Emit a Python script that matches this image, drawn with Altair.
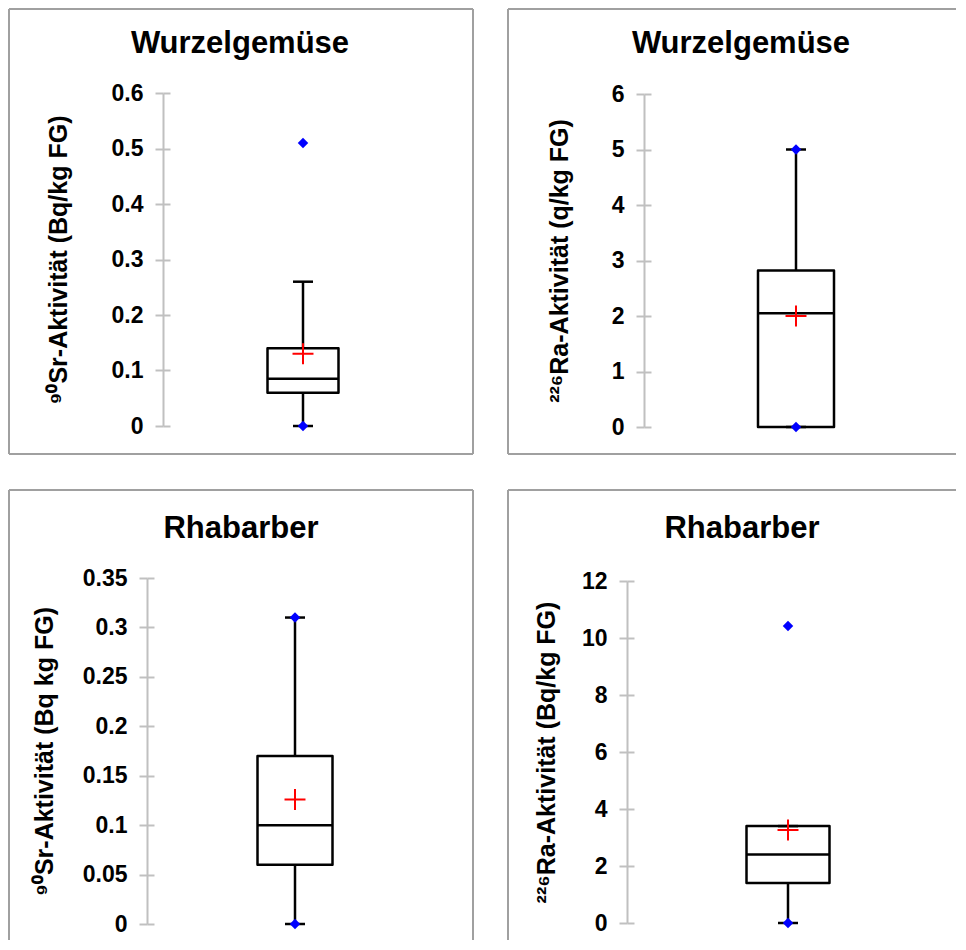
import altair as alt
import pandas as pd

# ---- data ----
titles = ["Wurzelgemüse", "Wurzelgemüse", "Rhabarber", "Rhabarber"]
y_titles = [
    "\u2079\u2070Sr-Aktivität (Bq/kg FG)",
    "\u00b2\u00b2\u2076Ra-Aktivität (q/kg FG)",
    "\u2079\u2070Sr-Aktivität (Bq kg FG)",
    "\u00b2\u00b2\u2076Ra-Aktivität (Bq/kg FG)",
]
tick_values = [
    [0, 0.1, 0.2, 0.3, 0.4, 0.5, 0.6],
    [0, 1, 2, 3, 4, 5, 6],
    [0, 0.05, 0.1, 0.15, 0.2, 0.25, 0.3, 0.35],
    [0, 2, 4, 6, 8, 10, 12],
]
q1 = [0.06, 0.0, 0.06, 1.4]
median = [0.085, 2.05, 0.10, 2.4]
q3 = [0.14, 2.82, 0.17, 3.4]
mean = [0.13, 2.0, 0.126, 3.26]
whisker_low = [0.0, 0.0, 0.0, 0.0]
whisker_high = [0.26, 5.0, 0.31, 3.4]
extremes = [[0.51, 0.0], [5.0, 0.0], [0.31, 0.0], [10.42, 0.0]]

# ---- layout / style ----
FONT = "Liberation Sans, Arial, sans-serif"
FRAME = "#a0a0a0"
AXIS_GREY = "#c0c0c0"
panel_w = [464, 448, 464, 448]
panel_h = [445, 445, 450, 450]
right_edge = [True, False, True, False]
bottom_edge = [True, True, False, False]
axis_x = [154, 136, 138, 119]
y_range = [(417, 84), (418, 85), (434, 88), (433, 91)]
box_x = [294, 288, 286, 280]
box_w = [71, 76, 75, 83]
title_pad = [40, 39, 25, 22]
title_pos = [(231, 44), (233, 44), (232, 48), (234, 48)]


def make_panel(i):
    cat = titles[i]
    W, H = panel_w[i], panel_h[i]
    df = pd.DataFrame({
        "cat": [cat], "q1": [q1[i]], "med": [median[i]], "q3": [q3[i]],
        "mean": [mean[i]], "wlo": [whisker_low[i]], "whi": [whisker_high[i]],
    })
    caps = pd.DataFrame({"cat": [cat, cat], "v": [whisker_low[i], whisker_high[i]]})
    pts = pd.DataFrame({"cat": [cat] * len(extremes[i]), "v": extremes[i]})

    yscale = alt.Scale(domain=[0, tick_values[i][-1]], range=list(y_range[i]),
                       nice=False, zero=False)
    xenc = alt.X("cat:N", axis=None,
                 scale=alt.Scale(type="point", range=[box_x[i] - 1, box_x[i] + 1], padding=0.5))

    main_axis = alt.Axis(
        orient="left", offset=-axis_x[i], values=tick_values[i], format="~g",
        domainColor=AXIS_GREY, domainWidth=2, tickColor=AXIS_GREY, tickWidth=2,
        tickSize=8, labelFont=FONT, labelFontSize=23, labelFontWeight="bold",
        labelColor="black", labelPadding=12, labelOverlap=False, labelFlush=False,
        title=y_titles[i], titleFont=FONT, titleFontSize=25, titleFontWeight="bold",
        titleColor="black", titlePadding=title_pad[i], grid=False,
    )
    right_axis = alt.Axis(
        orient="right", offset=axis_x[i] - W, values=tick_values[i],
        labels=False, domain=False, tickColor=AXIS_GREY, tickWidth=2, tickSize=7,
        title=None, grid=False,
    )

    base = alt.Chart(df)
    layers = []
    # panel frame (decoration)
    layers.append(base.mark_rule(color=FRAME, strokeWidth=2).encode(
        x=alt.value(0), x2=alt.value(W), y=alt.value(0)))
    layers.append(base.mark_rule(color=FRAME, strokeWidth=2).encode(
        x=alt.value(0), y=alt.value(0), y2=alt.value(H)))
    if right_edge[i]:
        layers.append(base.mark_rule(color=FRAME, strokeWidth=2).encode(
            x=alt.value(W), y=alt.value(0), y2=alt.value(H)))
    if bottom_edge[i]:
        layers.append(base.mark_rule(color=FRAME, strokeWidth=2).encode(
            x=alt.value(0), x2=alt.value(W), y=alt.value(H)))

    # panel title
    layers.append(base.mark_text(text=cat, font=FONT, fontSize=31, fontWeight="bold",
                                 color="black", align="center", baseline="alphabetic").encode(
        x=alt.value(title_pos[i][0]), y=alt.value(title_pos[i][1])))

    layers.append(base.mark_rule(color="black", strokeWidth=2.5).encode(
        x=xenc, y=alt.Y("whi:Q", scale=yscale, axis=main_axis), y2="q3:Q"))
    layers.append(base.mark_rule(color="black", strokeWidth=2.5).encode(
        x=xenc, y=alt.Y("q1:Q", scale=yscale, axis=right_axis), y2="wlo:Q"))
    layers.append(base.mark_bar(size=box_w[i], fill="white", stroke="black", strokeWidth=2.5,
                                strokeJoin="round", opacity=1).encode(
        x=xenc, y=alt.Y("q3:Q", scale=yscale, axis=None), y2="q1:Q"))
    layers.append(base.mark_tick(size=box_w[i], thickness=2.5, color="black", opacity=1).encode(
        x=xenc, y=alt.Y("med:Q", scale=yscale, axis=None)))
    layers.append(alt.Chart(caps).mark_tick(size=20, thickness=2.5, color="black", opacity=1).encode(
        x=xenc, y=alt.Y("v:Q", scale=yscale, axis=None)))
    layers.append(base.mark_point(shape="M-1,0L1,0M0,-1L0,1", size=440, filled=False,
                                  stroke="red", strokeWidth=2, opacity=1).encode(
        x=xenc, y=alt.Y("mean:Q", scale=yscale, axis=None)))
    layers.append(alt.Chart(pts).mark_point(shape="diamond", filled=True, color="blue",
                                            size=110, opacity=1).encode(
        x=xenc, y=alt.Y("v:Q", scale=yscale, axis=None)))

    return alt.layer(*layers).resolve_axis(y="independent").properties(width=W, height=H)


row1 = alt.hconcat(make_panel(0), make_panel(1), spacing=33)
row2 = alt.hconcat(make_panel(2), make_panel(3), spacing=33)
chart = alt.vconcat(row1, row2, spacing=34).properties(padding=0).configure_view(
    stroke=None)

chart.save("out.html", embed_options={"renderer": "svg", "actions": False})
